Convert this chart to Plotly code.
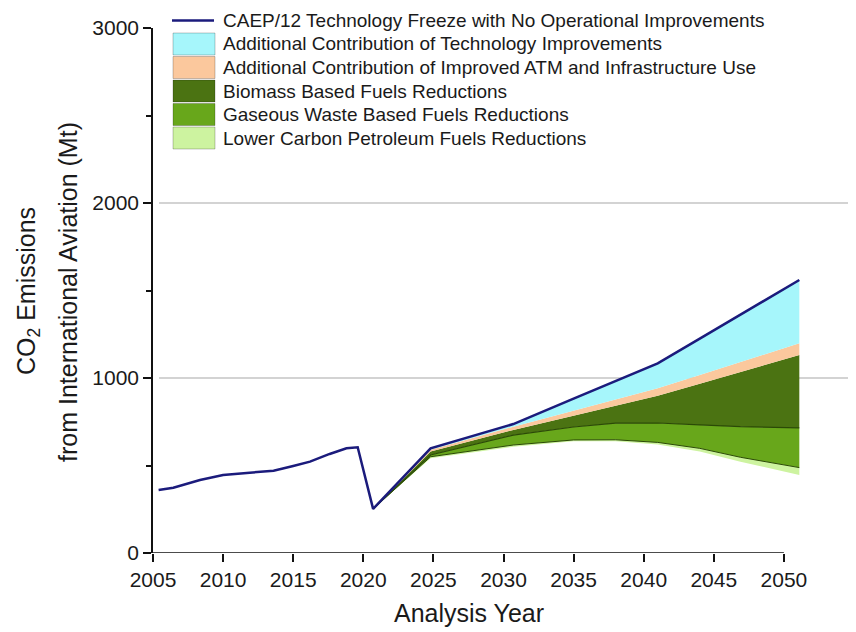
import plotly.graph_objects as go

# ---------------- data ----------------
hist_years = [2005.4, 2006.45, 2008.35, 2010.0, 2011.9, 2013.6, 2015.0, 2016.2, 2017.6, 2018.8, 2019.6]
hist_freeze = [360, 373, 417, 446, 459, 470, 497, 522, 566, 598, 604]

fc_years = [2020.7, 2024.8, 2030.7, 2035.0, 2038.0, 2041.0, 2044.0, 2046.9, 2051.1]
freeze = [252, 598, 737, 882, 983, 1084, 1225, 1362, 1560]
atm_top = [252, 590, 722, 815, 877, 941, 1017, 1091, 1198]
bio_top = [252, 580, 703, 784, 841, 898, 967, 1034, 1131]
bio_bottom = [252, 560, 674, 720, 742, 743, 732, 722, 715]
waste_bottom = [252, 550, 617, 646, 647, 632, 598, 547, 488]
lcp_bottom = [252, 541, 607, 638, 638, 620, 580, 522, 446]

x_ticks = [2005, 2010, 2015, 2020, 2025, 2030, 2035, 2040, 2045, 2050]
y_ticks = [0, 1000, 2000, 3000]

legend_labels = [
    "CAEP/12 Technology Freeze with No Operational Improvements",
    "Additional Contribution of Technology Improvements",
    "Additional Contribution of Improved ATM and Infrastructure Use",
    "Biomass Based Fuels Reductions",
    "Gaseous Waste Based Fuels Reductions",
    "Lower Carbon Petroleum Fuels Reductions",
]

# ---------------- styles ----------------
NAVY = "#1b1b7c"
CYAN = "#a6f6fb"
PEACH = "#fbc89d"
DKGREEN = "#4b7312"
MDGREEN = "#68a71b"
LTGREEN = "#cdf3a0"
EDGE = "#2b4a06"
FONT = "Liberation Sans, Arial, sans-serif"

# page offset of the figure (browser body margin)
OFF = 8
W, H = 856 - OFF, 632 - OFF
# reference pixel geometry of the plot area
REF_L, REF_T, REF_B0, REF_R = 153, 28, 553, 855
L = REF_L - OFF
T = REF_T - OFF
B = H - (REF_B0 - OFF)
R = W - (REF_R - OFF)
PW = W - L - R
PH = H - T - B


def px_x(p):
    return (p - REF_L) / PW


def px_y(p):
    return (REF_B0 - p) / PH


fig = go.Figure()

fig.add_trace(go.Scatter(x=fc_years, y=lcp_bottom, mode="lines",
                         line=dict(width=0, color=LTGREEN), showlegend=False, hoverinfo="skip"))
fig.add_trace(go.Scatter(x=fc_years, y=waste_bottom, mode="lines", fill="tonexty",
                         fillcolor=LTGREEN, line=dict(width=1, color=EDGE), showlegend=False))
fig.add_trace(go.Scatter(x=fc_years, y=bio_bottom, mode="lines", fill="tonexty",
                         fillcolor=MDGREEN, line=dict(width=1.2, color=EDGE), showlegend=False))
fig.add_trace(go.Scatter(x=fc_years, y=bio_top, mode="lines", fill="tonexty",
                         fillcolor=DKGREEN, line=dict(width=0, color=DKGREEN), showlegend=False))
fig.add_trace(go.Scatter(x=fc_years, y=atm_top, mode="lines", fill="tonexty",
                         fillcolor=PEACH, line=dict(width=0, color=PEACH), showlegend=False))
fig.add_trace(go.Scatter(x=fc_years, y=freeze, mode="lines", fill="tonexty",
                         fillcolor=CYAN, line=dict(width=0, color=CYAN), showlegend=False))
fig.add_trace(go.Scatter(x=hist_years + fc_years, y=hist_freeze + freeze, mode="lines",
                         line=dict(width=2.5, color=NAVY), showlegend=False))

shapes = []
# gridlines
for gy in [1000, 2000]:
    shapes.append(dict(type="line", xref="paper", yref="y", x0=px_x(159), x1=1, y0=gy, y1=gy,
                       line=dict(color="#c4c4c4", width=1.5), layer="below"))
# x axis line (ends at 2050)
shapes.append(dict(type="line", xref="x", yref="y", x0=2005, x1=2050, y0=0, y1=0,
                   line=dict(color="#111111", width=1.5)))

annotations = []
# custom legend
fills = [None, CYAN, PEACH, DKGREEN, MDGREEN, LTGREEN]
for i, (lab, col) in enumerate(zip(legend_labels, fills)):
    cy = 20.5 + i * 23.5
    if col is None:
        shapes.append(dict(type="line", xref="paper", yref="paper",
                           x0=px_x(172), x1=px_x(214), y0=px_y(cy), y1=px_y(cy),
                           line=dict(color=NAVY, width=2.5)))
    else:
        shapes.append(dict(type="rect", xref="paper", yref="paper",
                           x0=px_x(173), x1=px_x(215), y0=px_y(cy + 11), y1=px_y(cy - 11),
                           fillcolor=col, line=dict(color="rgba(0,0,0,0.22)", width=1)))
    annotations.append(dict(xref="paper", yref="paper", x=px_x(221), y=px_y(cy),
                            xanchor="left", yanchor="middle", text=lab, showarrow=False,
                            font=dict(family=FONT, size=19, color="#1a1a1a")))

# axis titles
annotations.append(dict(xref="paper", yref="paper", x=px_x(28), y=px_y(291),
                        xanchor="center", yanchor="middle", textangle=-90, showarrow=False,
                        text="CO<sub>2</sub> Emissions",
                        font=dict(family=FONT, size=25, color="#1a1a1a")))
annotations.append(dict(xref="paper", yref="paper", x=px_x(68), y=px_y(292),
                        xanchor="center", yanchor="middle", textangle=-90, showarrow=False,
                        text="from International Aviation (Mt)",
                        font=dict(family=FONT, size=25, color="#1a1a1a")))
annotations.append(dict(xref="paper", yref="paper", x=px_x(469), y=px_y(613),
                        xanchor="center", yanchor="middle", showarrow=False,
                        text="Analysis Year",
                        font=dict(family=FONT, size=25, color="#1a1a1a")))

fig.update_layout(
    width=W, height=H,
    margin=dict(l=L, r=R, t=T, b=B, pad=0),
    paper_bgcolor="white", plot_bgcolor="white",
    showlegend=False,
    shapes=shapes, annotations=annotations,
    font=dict(family=FONT, color="#1a1a1a"),
    xaxis=dict(range=[2005, 2005 + PW / 14.02], tickvals=x_ticks, ticks="outside", ticklen=8,
               tickwidth=1.5, tickcolor="#111111", showgrid=False, zeroline=False,
               showline=False, tickfont=dict(size=21, family=FONT, color="#1a1a1a")),
    yaxis=dict(range=[0, 3000], tickvals=y_ticks, ticks="outside", ticklen=8, tickwidth=1.5,
               tickcolor="#111111", showgrid=False, zeroline=False, showline=True,
               linecolor="#111111", linewidth=1.5,
               minor=dict(dtick=500, ticks="outside", ticklen=5, tickwidth=1.5, tickcolor="#111111",
                          showgrid=False),
               tickfont=dict(size=21, family=FONT, color="#1a1a1a")),
)

fig.write_html("out.html")
